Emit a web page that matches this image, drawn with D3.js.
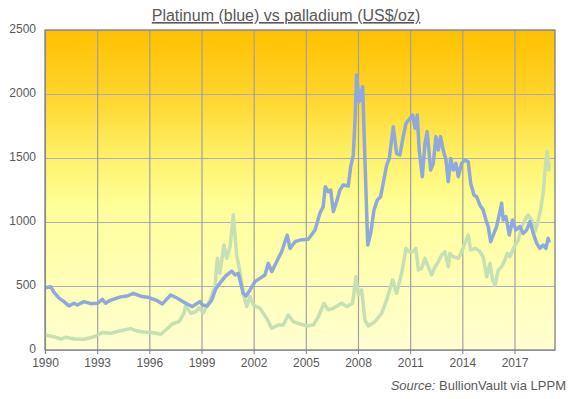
<!DOCTYPE html>
<html>
<head>
<meta charset="utf-8">
<script src="https://cdn.jsdelivr.net/npm/d3@7"></script>
<style>
  body { margin: 0; background: #fff; }
  text { font-family: "Liberation Sans", Arial, sans-serif; }
</style>
</head>
<body>
<svg id="chart" width="570" height="399"></svg>
<script>
/* global d3 */

// Platinum price, US$/oz  [year, value]
var platinum = [
  [1990.00, 485], [1990.33, 495], [1990.52, 450], [1990.81, 405], [1991.09, 378], [1991.38, 345],
  [1991.67, 365], [1991.86, 352], [1992.24, 378], [1992.63, 362], [1993.01, 365], [1993.30, 396],
  [1993.49, 365], [1993.78, 390], [1994.35, 415], [1994.73, 422], [1995.08, 443], [1995.50, 420],
  [1995.98, 410], [1996.46, 385], [1996.75, 360], [1997.23, 430], [1997.61, 404], [1998.09, 365],
  [1998.47, 339], [1998.76, 365], [1998.91, 378], [1999.05, 352], [1999.33, 344], [1999.59, 391],
  [1999.83, 482], [2000.06, 521], [2000.35, 573], [2000.74, 617], [2000.93, 586], [2001.12, 599],
  [2001.21, 547], [2001.40, 443], [2001.56, 422], [2001.79, 469], [2002.08, 534], [2002.36, 560],
  [2002.65, 586], [2002.84, 677], [2003.04, 612], [2003.32, 690], [2003.61, 768], [2003.93, 898],
  [2004.09, 794], [2004.38, 846], [2004.66, 859], [2005.14, 865], [2005.53, 937], [2005.81, 1068],
  [2006.00, 1120], [2006.12, 1276], [2006.29, 1237], [2006.43, 1250], [2006.58, 1081], [2006.77, 1159],
  [2006.96, 1250], [2007.15, 1289], [2007.44, 1281], [2007.58, 1432], [2007.73, 1523], [2007.83, 1797],
  [2007.92, 2148], [2008.07, 1940], [2008.27, 2057], [2008.40, 1484], [2008.56, 820], [2008.73, 911],
  [2008.92, 1094], [2009.11, 1172], [2009.30, 1198], [2009.45, 1302], [2009.65, 1445], [2009.80, 1497],
  [2010.03, 1745], [2010.22, 1536], [2010.41, 1523], [2010.60, 1667], [2010.76, 1771], [2010.99, 1810],
  [2011.14, 1836], [2011.28, 1732], [2011.41, 1836], [2011.52, 1562], [2011.70, 1354], [2011.85, 1615],
  [2011.98, 1706], [2012.18, 1406], [2012.33, 1458], [2012.48, 1667], [2012.62, 1562], [2012.75, 1667],
  [2012.90, 1562], [2013.06, 1484], [2013.19, 1315], [2013.33, 1497], [2013.48, 1406], [2013.63, 1458],
  [2013.77, 1354], [2013.96, 1458], [2014.15, 1484], [2014.34, 1471], [2014.48, 1302], [2014.67, 1211],
  [2014.82, 1198], [2015.01, 1133], [2015.20, 1094], [2015.36, 1016], [2015.49, 964], [2015.63, 846],
  [2015.78, 898], [2015.97, 964], [2016.12, 1055], [2016.26, 1146], [2016.35, 1016], [2016.51, 1042],
  [2016.70, 898], [2016.89, 1016], [2017.08, 938], [2017.31, 964], [2017.50, 911], [2017.70, 938],
  [2017.89, 1003], [2018.08, 911], [2018.28, 833], [2018.46, 794], [2018.65, 820], [2018.81, 794],
  [2018.94, 872], [2019.00, 839]
];

// Palladium price, US$/oz  [year, value]
var palladium = [
  [1990.00, 117], [1990.52, 104], [1990.90, 86], [1991.19, 99], [1991.67, 86], [1992.24, 83],
  [1992.82, 104], [1993.30, 138], [1993.78, 130], [1994.35, 151], [1994.93, 167], [1995.31, 148],
  [1995.69, 141], [1996.27, 135], [1996.65, 122], [1996.94, 156], [1997.32, 203], [1997.71, 221],
  [1997.99, 287], [1998.09, 344], [1998.38, 287], [1998.67, 299], [1998.86, 330], [1999.10, 290],
  [1999.49, 391], [1999.78, 495], [1999.91, 716], [2000.06, 599], [2000.29, 820], [2000.45, 716],
  [2000.64, 807], [2000.83, 1055], [2001.02, 742], [2001.21, 612], [2001.40, 443], [2001.60, 339],
  [2001.79, 417], [2001.98, 352], [2002.36, 326], [2002.75, 247], [2003.04, 169], [2003.42, 195],
  [2003.70, 195], [2003.99, 273], [2004.28, 221], [2004.66, 203], [2005.05, 188], [2005.43, 195],
  [2005.72, 260], [2006.04, 365], [2006.29, 313], [2006.58, 326], [2007.06, 365], [2007.35, 339],
  [2007.69, 365], [2007.88, 573], [2008.02, 430], [2008.21, 469], [2008.40, 234], [2008.59, 188],
  [2008.98, 221], [2009.36, 287], [2009.65, 391], [2009.99, 547], [2010.22, 443], [2010.51, 599],
  [2010.76, 794], [2010.95, 768], [2011.18, 768], [2011.33, 794], [2011.47, 625], [2011.66, 638],
  [2011.85, 716], [2012.04, 651], [2012.24, 586], [2012.43, 651], [2012.62, 690], [2012.81, 742],
  [2013.00, 768], [2013.19, 651], [2013.29, 755], [2013.48, 729], [2013.77, 716], [2013.96, 768],
  [2014.15, 833], [2014.34, 898], [2014.48, 781], [2014.73, 794], [2014.97, 775], [2015.20, 729],
  [2015.40, 573], [2015.59, 677], [2015.74, 547], [2015.88, 508], [2016.07, 625], [2016.26, 651],
  [2016.45, 703], [2016.58, 755], [2016.74, 729], [2016.93, 794], [2017.22, 859], [2017.41, 964],
  [2017.60, 1016], [2017.79, 1055], [2017.99, 1016], [2018.18, 924], [2018.37, 1016], [2018.50, 1094],
  [2018.65, 1224], [2018.81, 1484], [2018.89, 1550], [2018.97, 1406], [2019.00, 1458]
];

var yearTicks = [1990, 1993, 1996, 1999, 2002, 2005, 2008, 2011, 2014, 2017];
var priceTicks = [0, 500, 1000, 1500, 2000, 2500];

var svg = d3.select("#chart");
var margin = {top: 30, right: 15, bottom: 49, left: 45};
var width = 570 - margin.left - margin.right;
var height = 399 - margin.top - margin.bottom;

var x = d3.scaleLinear().domain([1990, 2019.33]).range([0, width]);
var y = d3.scaleLinear().domain([0, 2500]).range([height, 0]);

// fondo degradado
var grad = svg.append("defs").append("linearGradient")
    .attr("id", "bg").attr("x1", 0).attr("y1", 0).attr("x2", 0).attr("y2", 1);
grad.append("stop").attr("offset", "0%").attr("stop-color", "#FFC000");
grad.append("stop").attr("offset", "20%").attr("stop-color", "#FFD42A");
grad.append("stop").attr("offset", "40%").attr("stop-color", "#FFF26A");
grad.append("stop").attr("offset", "55%").attr("stop-color", "#FFFF99");
grad.append("stop").attr("offset", "100%").attr("stop-color", "#FFFFD2");

var g = svg.append("g").attr("transform", "translate(" + margin.left + "," + margin.top + ")");

g.append("rect").attr("width", width).attr("height", height).attr("fill", "url(#bg)");

// rejilla horizontal
g.append("g")
    .call(d3.axisLeft(y).tickValues(priceTicks).tickSize(-width).tickFormat(""))
    .call(function (s) {
      s.select(".domain").remove();
      s.selectAll("line").attr("stroke", "#A9A9D6").attr("stroke-width", 1.2);
    });

// rejilla vertical
g.append("g")
    .attr("transform", "translate(0," + height + ")")
    .call(d3.axisBottom(x).tickValues(yearTicks).tickSize(-height).tickFormat(""))
    .call(function (s) {
      s.select(".domain").remove();
      s.selectAll("line").attr("stroke", "#A0A0A0").attr("stroke-width", 1.2);
    });

var line = d3.line()
    .x(function (d) { return x(d[0]); })
    .y(function (d) { return y(d[1]); });

g.append("path").datum(palladium)
    .attr("fill", "none").attr("stroke", "#C6E0B4").attr("stroke-width", 3.5)
    .attr("stroke-linejoin", "round").attr("d", line);

g.append("path").datum(platinum)
    .attr("fill", "none").attr("stroke", "#8EA9DB").attr("stroke-width", 3.5)
    .attr("stroke-linejoin", "round").attr("d", line);

// borde
g.append("rect").attr("width", width).attr("height", height)
    .attr("fill", "none").attr("stroke", "#808080").attr("stroke-width", 1.3);

// eje x
var xAxis = g.append("g")
    .attr("transform", "translate(0," + height + ")")
    .call(d3.axisBottom(x).tickValues(yearTicks).tickSize(4).tickPadding(4).tickFormat(d3.format("d")));
xAxis.select(".domain").remove();
xAxis.selectAll("line").attr("stroke", "#808080");
xAxis.selectAll("text").attr("fill", "#595959").attr("font-size", 12);

// eje y
var yAxis = g.append("g")
    .call(d3.axisLeft(y).tickValues(priceTicks).tickSize(0).tickPadding(9).tickFormat(d3.format("d")));
yAxis.select(".domain").remove();
yAxis.selectAll("text").attr("fill", "#595959").attr("font-size", 12).attr("dy", "0.2em");

// titulo
svg.append("text")
    .attr("x", 286).attr("y", 21)
    .attr("text-anchor", "middle")
    .attr("font-size", 16)
    .attr("fill", "#595959")
    .attr("text-decoration", "underline")
    .text("Platinum (blue) vs palladium (US$/oz)");

// fuente
var src = svg.append("text")
    .attr("x", 566).attr("y", 390)
    .attr("text-anchor", "end")
    .attr("font-size", 13)
    .attr("fill", "#595959");
src.append("tspan").attr("font-style", "italic").text("Source:");
src.append("tspan").text(" BullionVault via LPPM");
</script>
</body>
</html>
